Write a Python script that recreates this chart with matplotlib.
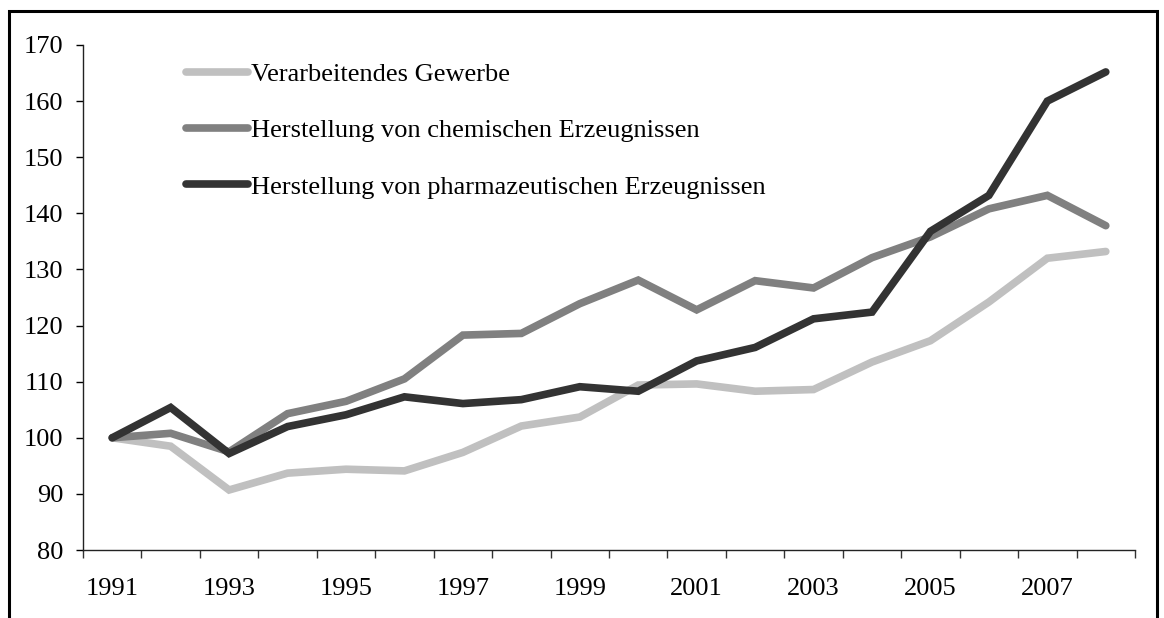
import matplotlib.pyplot as plt
from matplotlib.patches import Rectangle

plt.rcParams['font.family'] = ['Liberation Serif', 'DejaVu Serif']

years = list(range(1991, 2009))
gewerbe = [100, 98.5, 90.7, 93.7, 94.4, 94.1, 97.4, 102.1, 103.7, 109.4, 109.6, 108.3, 108.6,
           113.5, 117.3, 124.2, 132.0, 133.2]
chemie = [100, 100.8, 97.5, 104.3, 106.5, 110.5, 118.3, 118.6, 123.9, 128.1, 122.8, 128.0, 126.7,
          132.1, 135.8, 140.8, 143.2, 137.8]
pharma = [100, 105.4, 97.2, 102.0, 104.1, 107.3, 106.1, 106.8, 109.1, 108.3, 113.7, 116.1, 121.2,
          122.4, 136.8, 143.2, 160.0, 165.2]
labels = ['Verarbeitendes Gewerbe',
          'Herstellung von chemischen Erzeugnissen',
          'Herstellung von pharmazeutischen Erzeugnissen']
colors = ['#c0c0c0', '#808080', '#333333']

fig = plt.figure(figsize=(11.64, 6.18), dpi=100)
ax = fig.add_axes([0.0713, 0.110, 0.9038, 0.8172])

x = list(range(len(years)))
for series, lab, col in zip([gewerbe, chemie, pharma], labels, colors):
    ax.plot(x, series, color=col, lw=5.5, label=lab, solid_capstyle='round',
            solid_joinstyle='miter')

ax.set_xlim(-0.5, len(years) - 0.5)
ax.set_ylim(80, 170)
ax.set_yticks(range(80, 171, 10))

# category axis: ticks between categories, labels on every other year
ax.set_xticks([i - 0.5 for i in range(len(years) + 1)])
ax.set_xticklabels([])
ax.set_xticks(x[::2], minor=True)
ax.set_xticklabels([str(y) for y in years[::2]], minor=True)
ax.tick_params(axis='x', which='major', direction='out', length=6, width=1, color='#333333')
ax.tick_params(axis='x', which='minor', length=0, pad=20, labelsize=19)
ax.tick_params(axis='y', direction='out', length=5, width=1, pad=9, labelsize=19)

for s in ['top', 'right']:
    ax.spines[s].set_visible(False)
for s in ['left', 'bottom']:
    ax.spines[s].set_linewidth(1)
    ax.spines[s].set_color('#222222')

leg = ax.legend(loc='upper left', bbox_to_anchor=(0.075, 1.012), frameon=False,
                fontsize=19, handlelength=2.35, handletextpad=0.12, labelspacing=1.24)

# outer frame
fig.patches.append(Rectangle((9 / 1164, -0.1), (1157 - 9) / 1164, 1.1 - 11 / 618,
                             transform=fig.transFigure, fill=False, lw=2.2,
                             edgecolor='black'))

fig.savefig('out.png', dpi=100)
